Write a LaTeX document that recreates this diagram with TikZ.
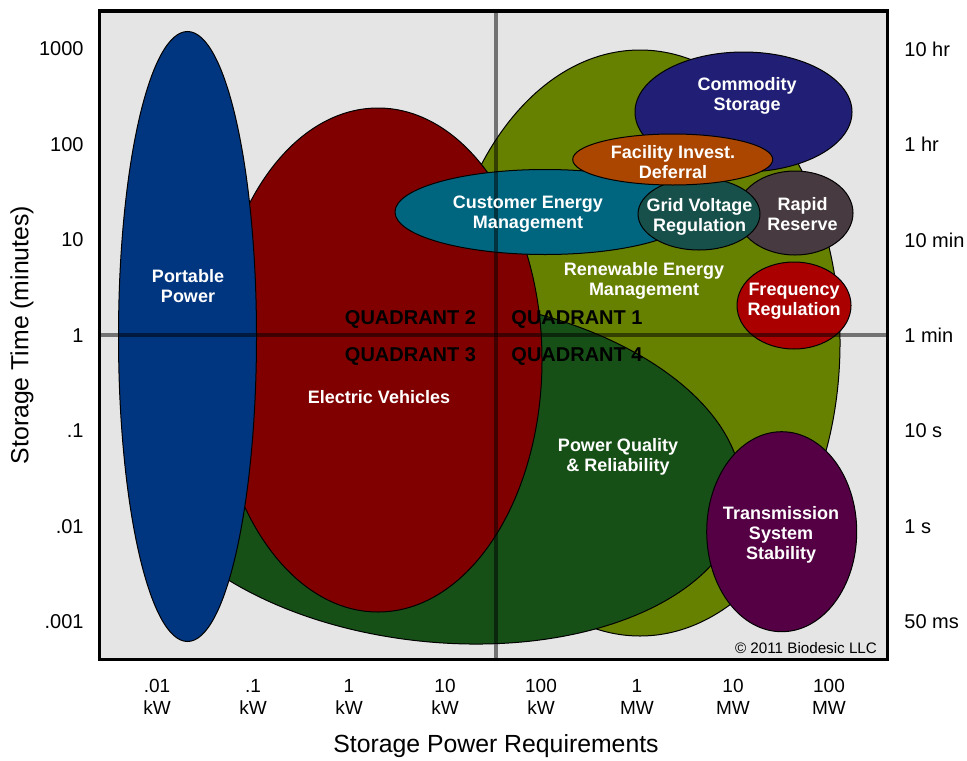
\documentclass[tikz,border=0pt]{standalone}
\usepackage{fontspec}
\setmainfont{Liberation Sans}
\usepackage{tikz}

\definecolor{plotgray}{HTML}{E5E5E5}
\definecolor{portblue}{HTML}{003580}
\definecolor{evred}{HTML}{800000}
\definecolor{pqgreen}{HTML}{175017}
\definecolor{renolive}{HTML}{668000}
\definecolor{custteal}{HTML}{006680}
\definecolor{commnavy}{HTML}{201F75}
\definecolor{facorange}{HTML}{AA4600}
\definecolor{gvteal}{HTML}{17504A}
\definecolor{rrmauve}{HTML}{473A40}
\definecolor{frred}{HTML}{AA0000}
\definecolor{tsplum}{HTML}{550044}

\tikzset{
    blob/.style={draw=black, line width=0.5pt},
    blobtext/.style={text=white, align=center, yshift=-1pt, font=\bfseries\fontsize{9}{10}\selectfont},
    quadtext/.style={yshift=-1pt, font=\bfseries\fontsize{10}{12}\selectfont},
    ticktext/.style={inner sep=0pt, font=\fontsize{10}{12}\selectfont},
    powtext/.style={align=center, font=\fontsize{9.5}{11}\selectfont},
    axtitle/.style={font=\fontsize{12.4}{14}\selectfont},
    quadline/.style={line width=2pt, black, opacity=0.5},
}

\begin{document}
\begin{tikzpicture}[x=0.5pt, y=-0.5pt]
    \useasboundingbox (0,0) rectangle (967,760);
    \coordinate (P1) at (99.5, 11);
    \coordinate (P2) at (887.7, 659.5);
    \fill[plotgray] (P1) rectangle (P2);

    % ellipse centres
    \coordinate (REN) at (640, 343);
    \coordinate (PQR) at (438, 470);
    \coordinate (EV) at (378, 360);
    \coordinate (PP) at (187.5, 336.5);
    \coordinate (CEM) at (545, 212);
    \coordinate (CS) at (743.5, 112);
    \coordinate (RR) at (795, 213);
    \coordinate (GVR) at (699, 214);
    \coordinate (FID) at (672.7, 159.5);
    \coordinate (FR) at (794, 305.5);
    \coordinate (TSS) at (781.7, 531.7);

    \filldraw[blob, fill=renolive] (REN) ellipse (200 and 293); % renewables
    \filldraw[blob, fill=pqgreen, rotate around={-6:(PQR)}] (PQR) ellipse (305 and 172); % power quality
    \filldraw[blob, fill=evred] (EV) ellipse (164 and 252); % vehicles
    \filldraw[blob, fill=portblue] (PP) ellipse (69 and 305); % portable
    \filldraw[blob, fill=custteal] (CEM) ellipse (150 and 42.5); % customer
    \filldraw[blob, fill=commnavy] (CS) ellipse (108.5 and 60); % commodity
    \filldraw[blob, fill=rrmauve] (RR) ellipse (58 and 42); % reserve
    \filldraw[blob, fill=gvteal] (GVR) ellipse (61 and 36); % grid voltage
    \filldraw[blob, fill=facorange] (FID) ellipse (100 and 25.5); % deferral
    \filldraw[blob, fill=frred] (FR) ellipse (57 and 43.5); % frequency
    \filldraw[blob, fill=tsplum] (TSS) ellipse (75 and 100); % transmission

    % quadrant lines
    \coordinate (QN) at (496, 11);
    \coordinate (QS) at (496, 659.5);
    \coordinate (QW) at (99.5, 335);
    \coordinate (QE) at (887.7, 335);
    \draw[quadline] (QN) -- (QS);
    \draw[quadline] (QW) -- (QE);

    \node[blobtext] (ppl) at (188, 284) {Portable\\Power};
    \node[blobtext] (evl) at (379, 395) {Electric Vehicles};
    \node[blobtext] (ceml) at (528, 212) {Customer Energy\\Management};
    \node[blobtext] (csl) at (747, 94) {Commodity\\Storage};
    \node[blobtext] (fidl) at (673, 160) {Facility Invest.\\Deferral};
    \node[blobtext] (gvrl) at (699.5, 214.5) {Grid Voltage\\Regulation};
    \node[blobtext] (rrl) at (802.5, 212) {Rapid\\Reserve};
    \node[blobtext] (renl) at (644, 279) {Renewable Energy\\Management};
    \node[blobtext] (frl) at (794, 299.5) {Frequency\\Regulation};
    \node[blobtext] (pqrl) at (618, 455) {Power Quality\\\& Reliability};
    \node[blobtext] (tssl) at (781, 532.5) {Transmission\\System\\Stability};

    \node[quadtext] (q2) at (410.5, 317) {QUADRANT 2};
    \node[quadtext] (q1) at (577, 317) {QUADRANT 1};
    \node[quadtext] (q3) at (410.5, 354) {QUADRANT 3};
    \node[quadtext] (q4) at (577, 354) {QUADRANT 4};

    \node[anchor=east, font=\fontsize{7.6}{9}\selectfont] (copyr) at (884, 648) {© 2011 Biodesic LLC};

    % axis labels
    \foreach \lbl [count=\i from 0] in {1000,100,10,1,.1,.01,.001}
        \node[ticktext, anchor=east] (yl\i) at (84, {49+95.5*\i}) {\lbl};
    \foreach \lbl [count=\i from 0] in {10 hr,1 hr,10 min,1 min,10 s,1 s,50 ms}
        \node[ticktext, anchor=west] (yr\i) at (904, {49+95.5*\i}) {\lbl};
    \foreach \num/\unit [count=\i from 0] in {.01/kW,.1/kW,1/kW,10/kW,100/kW,1/MW,10/MW,100/MW}
        \node[powtext] (xl\i) at ({157+96*\i}, 697) {\num\\\unit};

    \node[axtitle] (xtitle) at (496, 746) {Storage Power Requirements};
    \node[axtitle, rotate=90] (ytitle) at (22, 335) {Storage Time (minutes)};

    \draw[line width=1.65pt] (P1) rectangle (P2); % frame
\end{tikzpicture}
\end{document}
